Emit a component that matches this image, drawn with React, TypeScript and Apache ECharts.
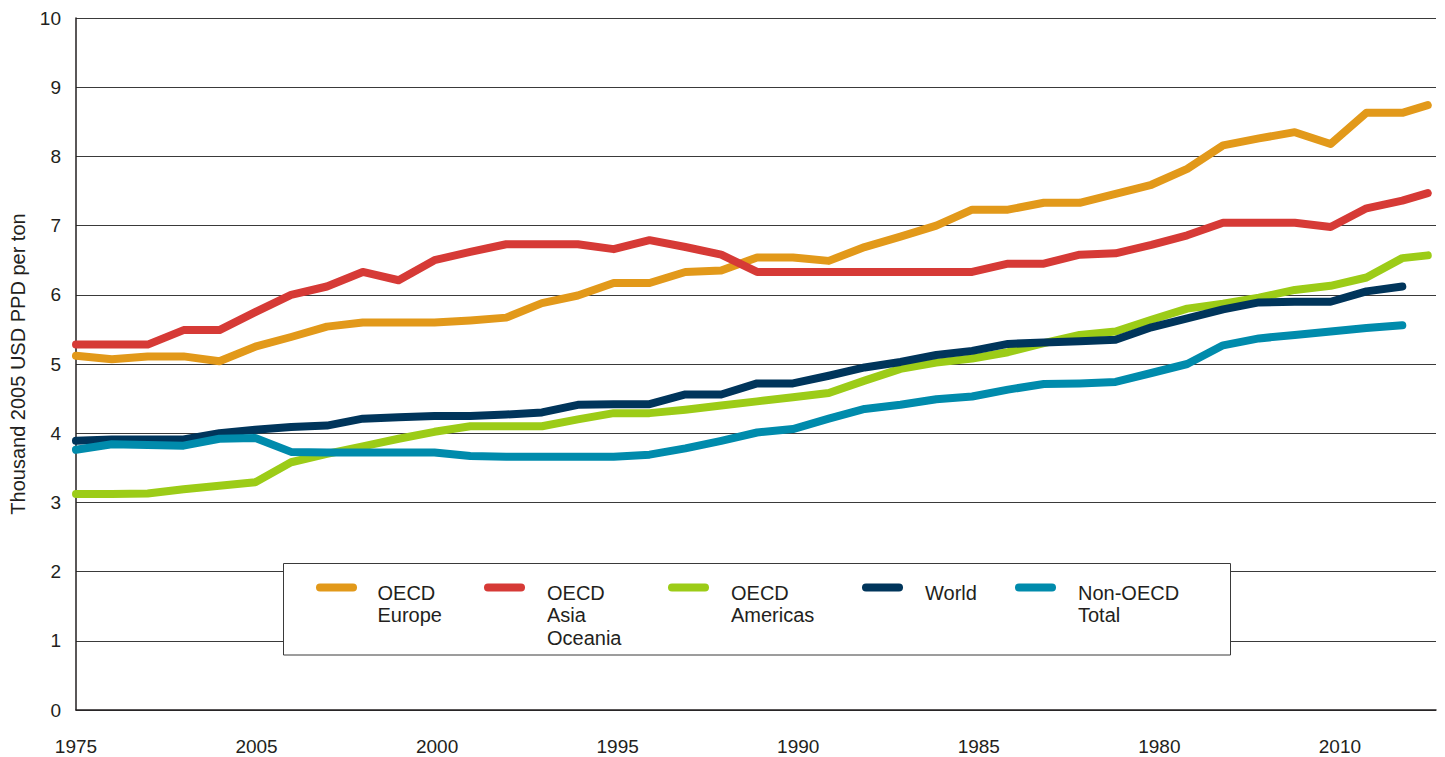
import React, { useEffect, useRef } from "react";
import * as echarts from "echarts";

const years = [
  1975, 1976, 1977, 1978, 1979, 1980, 1981, 1982, 1983, 1984,
  1985, 1986, 1987, 1988, 1989, 1990, 1991, 1992, 1993, 1994,
  1995, 1996, 1997, 1998, 1999, 2000, 2001, 2002, 2003, 2004,
  2005, 2006, 2007, 2008, 2009, 2010, 2011, 2012, 2012.71,
];

const xTickLabels = ["1975", "2005", "2000", "1995", "1990", "1985", "1980", "2010"];

const oecdEurope = [
  5.12, 5.07, 5.11, 5.11, 5.04, 5.25, 5.39, 5.54, 5.6, 5.6,
  5.6, 5.63, 5.67, 5.88, 5.99, 6.17, 6.17, 6.33, 6.35, 6.54,
  6.54, 6.49, 6.69, 6.84, 7.0, 7.23, 7.23, 7.33, 7.33, 7.46,
  7.59, 7.82, 8.16, 8.26, 8.35, 8.18, 8.63, 8.63, 8.74,
];
const oecdAsiaOceania = [
  5.28, 5.28, 5.28, 5.49, 5.49, 5.75, 6.0, 6.12, 6.33, 6.21,
  6.5, 6.62, 6.73, 6.73, 6.73, 6.66, 6.79, 6.69, 6.58, 6.33,
  6.33, 6.33, 6.33, 6.33, 6.33, 6.33, 6.45, 6.45, 6.58, 6.6,
  6.72, 6.86, 7.04, 7.04, 7.04, 6.98, 7.25, 7.36, 7.47,
];
const oecdAmericas = [
  3.12, 3.12, 3.13, 3.19, 3.24, 3.29, 3.58, 3.7, 3.81, 3.92,
  4.02, 4.1, 4.1, 4.1, 4.2, 4.29, 4.29, 4.34, 4.4, 4.46,
  4.52, 4.58, 4.76, 4.93, 5.02, 5.08, 5.17, 5.3, 5.42, 5.47,
  5.64, 5.8, 5.87, 5.96, 6.07, 6.13, 6.25, 6.53, 6.57,
];
const world = [
  3.89, 3.91, 3.91, 3.91, 4.0, 4.05, 4.09, 4.11, 4.21, 4.23,
  4.25, 4.25, 4.27, 4.3, 4.41, 4.42, 4.42, 4.56, 4.56, 4.72,
  4.72, 4.83, 4.95, 5.03, 5.13, 5.19, 5.29, 5.31, 5.33, 5.35,
  5.53, 5.66, 5.79, 5.89, 5.9, 5.9, 6.05, 6.12, null,
];
const nonOecdTotal = [
  3.76, 3.84, 3.83, 3.82, 3.92, 3.93, 3.73, 3.72, 3.72, 3.72,
  3.72, 3.67, 3.66, 3.66, 3.66, 3.66, 3.69, 3.78, 3.89, 4.01,
  4.06, 4.21, 4.35, 4.41, 4.49, 4.53, 4.63, 4.71, 4.72, 4.74,
  4.87, 5.0, 5.27, 5.37, 5.42, 5.47, 5.52, 5.56, null,
];

const seriesNames = ["OECD Europe", "OECD Asia Oceania", "OECD Americas", "World", "Non-OECD Total"];
const legendLabels = ["OECD\nEurope", "OECD\nAsia\nOceania", "OECD\nAmericas", "World", "Non-OECD\nTotal"];
const seriesColors = ["#E2991A", "#D63A36", "#9CCC17", "#00355B", "#008BAC"];
const seriesValues = [oecdEurope, oecdAsiaOceania, oecdAmericas, world, nonOecdTotal];

const FONT = "'Liberation Sans', Arial, Helvetica, sans-serif";
const TEXT = "#231f20";

export default function App() {
  const ref = useRef<HTMLDivElement>(null);

  useEffect(() => {
    if (!ref.current) return;
    const chart = echarts.init(ref.current, null, { renderer: "svg" });

    const legendSwatchX = [320, 488, 672, 866, 1019];
    const legendTextX = [377.5, 547, 731, 925, 1078];

    const legendChildren: any[] = [
      {
        type: "rect",
        shape: { x: 283.5, y: 563.5, width: 947, height: 91.5 },
        style: { fill: "#ffffff", stroke: "#3a3a3a", lineWidth: 1 },
        z: 100,
      },
    ];
    legendLabels.forEach((lab, i) => {
      legendChildren.push({
        type: "line",
        shape: { x1: legendSwatchX[i], y1: 587.5, x2: legendSwatchX[i] + 33, y2: 587.5 },
        style: { stroke: seriesColors[i], lineWidth: 8, lineCap: "round" },
        z: 101,
      });
      legendChildren.push({
        type: "text",
        x: legendTextX[i],
        y: 581.5,
        style: {
          text: lab,
          fill: TEXT,
          font: `20px ${FONT}`,
          lineHeight: 22.5,
          verticalAlign: "top",
          align: "left",
        },
        z: 101,
      });
    });

    chart.setOption({
      animation: false,
      backgroundColor: "#ffffff",
      textStyle: { fontFamily: FONT },
      grid: { left: 76, right: 9, top: 18, bottom: 47, containLabel: false },
      xAxis: [
        {
          type: "value",
          min: 1975,
          max: 2012.66,
          interval: 5,
          axisLine: { show: true, onZero: false, lineStyle: { color: TEXT, width: 1.5 } },
          axisTick: { show: false },
          splitLine: { show: false },
          axisLabel: {
            color: TEXT,
            fontSize: 19,
            fontFamily: FONT,
            margin: 27,
            showMaxLabel: false,
            formatter: (v: number) => {
              const idx = Math.round((v - 1975) / 5);
              if (Math.abs(v - (1975 + idx * 5)) > 1e-6) return "";
              return xTickLabels[idx] ?? "";
            },
          },
        },
        {
          type: "value",
          min: 1975,
          max: 2012.94,
          show: false,
          splitLine: { show: false },
        },
      ],
      yAxis: {
        type: "value",
        min: 0,
        max: 10,
        interval: 1,
        name: "Thousand 2005 USD PPD per ton",
        nameLocation: "middle",
        nameGap: 48,
        nameTextStyle: { color: TEXT, fontSize: 20, fontFamily: FONT },
        axisLine: { show: true, lineStyle: { color: TEXT, width: 1.5 } },
        axisTick: { show: false },
        axisLabel: { color: TEXT, fontSize: 19, fontFamily: FONT, margin: 15 },
        splitLine: { show: true, lineStyle: { color: "#3a3a3a", width: 1 } },
      },
      series: seriesNames.map((name, i) => ({
        name,
        type: "line",
        xAxisIndex: 1,
        data: years.map((y, j) => [y, seriesValues[i][j]]),
        showSymbol: false,
        symbol: "none",
        connectNulls: false,
        lineStyle: { color: seriesColors[i], width: 8, cap: "round", join: "round" },
        itemStyle: { color: seriesColors[i] },
        z: 2 + i,
      })),
      graphic: [{ type: "group", z: 100, children: legendChildren }],
    });

    return () => chart.dispose();
  }, []);

  return (
    <div
      ref={ref}
      style={{ position: "fixed", left: 0, top: 0, width: 1445, height: 757, background: "#fff" }}
    />
  );
}
